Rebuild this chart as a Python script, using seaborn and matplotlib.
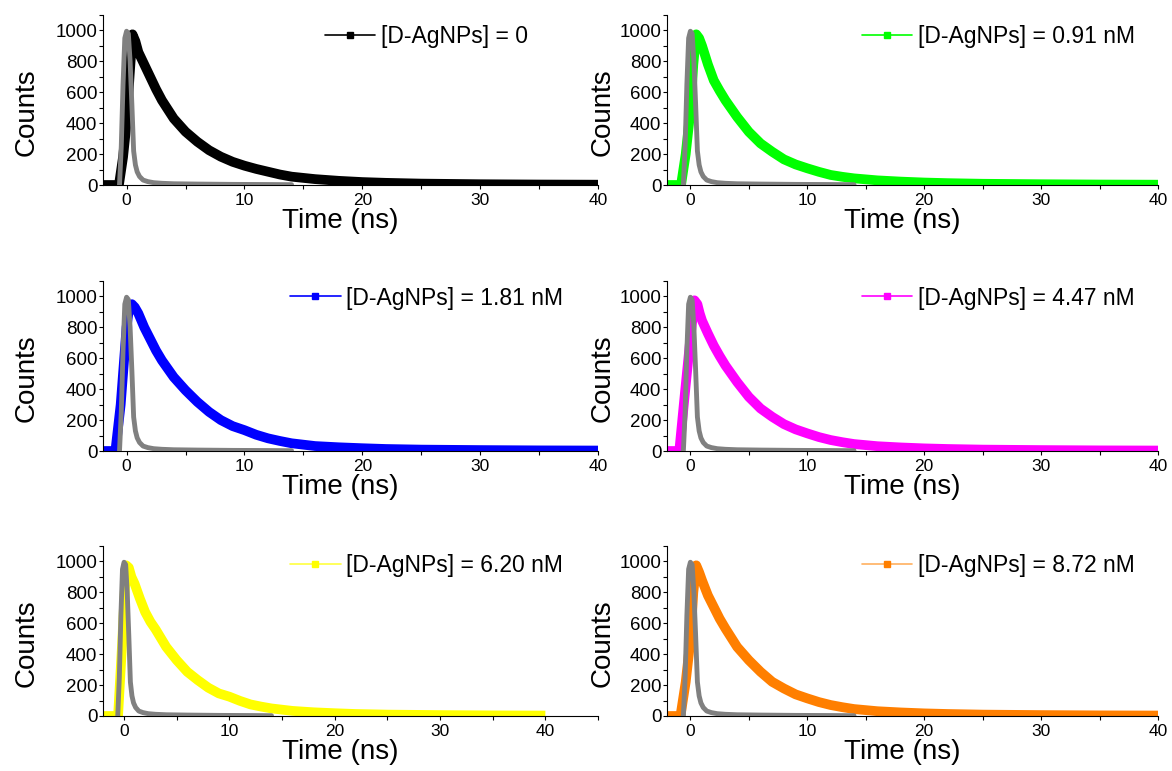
import matplotlib
matplotlib.use("Agg")
import matplotlib.pyplot as plt
from matplotlib.lines import Line2D
from matplotlib.ticker import MultipleLocator
import seaborn as sns
import pandas as pd

sns.set_theme(style="ticks")
plt.rcParams['font.family'] = ['Liberation Sans', 'DejaVu Sans']
plt.rcParams['text.color'] = 'black'
plt.rcParams['axes.labelcolor'] = 'black'
plt.rcParams['xtick.color'] = 'black'
plt.rcParams['ytick.color'] = 'black'

# ---------------- data ----------------
labels = ["[D-AgNPs] = 0", "[D-AgNPs] = 0.91 nM", "[D-AgNPs] = 1.81 nM",
          "[D-AgNPs] = 4.47 nM", "[D-AgNPs] = 6.20 nM", "[D-AgNPs] = 8.72 nM"]
colors = ["#000000", "#00ff00", "#0000ff", "#ff00ff", "#ffff00", "#ff7f00"]
legend_line_colors = ["#000000", "#00ff00", "#0000ff", "#ff00ff", "#ffff40", "#ffb060"]

tail_t = [1.5, 2, 2.5, 3, 4, 5, 6, 7, 8, 9, 10, 11, 12, 13, 14, 16, 18, 20, 22, 25, 30, 35, 40]

t_0 = [-2, -0.65, -0.3, 0, 0.25, 0.5, 0.75, 1] + tail_t
c_0 = [0, 0, 180, 400, 700, 975, 930, 860,
       780, 700, 620, 548, 430, 345, 280, 225, 183, 150, 125, 104, 86, 68, 54, 38, 27, 19, 14, 9, 5, 3, 2]

t_091 = [-2, -0.8, -0.4, 0, 0.25, 0.5, 0.75, 1] + tail_t
c_091 = [0, 0, 200, 480, 780, 975, 950, 900,
         780, 677, 610, 548, 440, 344, 269, 215, 166, 133, 108, 85, 65, 53, 43, 30, 22, 16, 12, 8, 5, 3, 2]

t_181 = [-2, -0.95, -0.5, 0, 0.2, 0.45, 0.7, 1] + tail_t
c_181 = [0, 0, 300, 800, 920, 950, 930, 890,
         800, 725, 650, 586, 478, 393, 318, 253, 200, 161, 135, 105, 82, 65, 50, 32, 24, 18, 13, 9, 6, 4, 3]

t_447 = [-2, -0.95, -0.5, 0, 0.35, 0.6, 0.8, 1] + tail_t
c_447 = [0, 0, 350, 730, 975, 950, 890, 843,
         760, 682, 615, 553, 446, 350, 275, 221, 174, 140, 114, 90, 71, 57, 45, 31, 23, 17, 13, 9, 6, 4, 3]

t_620 = [-2, -0.57, -0.2, 0, 0.2, 0.45, 0.7, 1] + tail_t
c_620 = [0, 0, 450, 720, 975, 960, 900, 856,
         760, 673, 610, 560, 447, 361, 286, 232, 183, 146, 125, 98, 75, 61, 49, 33, 24, 18, 13, 9, 6, 4, 3]

t_872 = [-2, -0.85, -0.4, 0, 0.25, 0.5, 0.75, 1] + tail_t
c_872 = [0, 0, 220, 490, 800, 975, 930, 877,
         780, 705, 630, 566, 447, 361, 286, 221, 178, 140, 114, 90, 71, 57, 45, 31, 23, 17, 13, 9, 6, 4, 3]

# instrument response (gray)
t_irf = [-0.6, -0.45, -0.3, -0.15, 0, 0.15, 0.3, 0.45, 0.6, 0.75, 0.9, 1.1, 1.4, 1.8, 2.3, 3, 4, 6, 9, 12, 14]
c_irf = [0, 250, 650, 950, 995, 980, 800, 520, 220, 130, 85, 55, 32, 22, 15, 11, 8, 6, 4, 3, 2]

times = [t_0, t_091, t_181, t_447, t_620, t_872]
counts = [c_0, c_091, c_181, c_447, c_620, c_872]
x_max = [40, 40, 40, 40, 45, 40]

# ---------------- layout ----------------
W, H = 1172, 771
fig = plt.figure(figsize=(W / 100, H / 100), dpi=100)

col_x = [(103, 598), (667, 1158)]
row_y = [(15, 185), (281, 451), (546, 716)]
leg_x = [0.378, 0.397]
leg_x_first = 0.4485
leg_y = [0.871, 0.90, 0.888]

df_irf = pd.DataFrame({"t": t_irf, "c": c_irf})

for i in range(6):
    r, cidx = divmod(i, 2)
    x0, x1 = col_x[cidx]
    y0, y1 = row_y[r]
    ax = fig.add_axes([x0 / W, (H - y1) / H, (x1 - x0) / W, (y1 - y0) / H])

    df = pd.DataFrame({"t": times[i], "c": counts[i]})
    sns.lineplot(data=df, x="t", y="c", ax=ax, color=colors[i], linewidth=7,
                 solid_joinstyle="round", solid_capstyle="butt", legend=False, zorder=2)
    sns.lineplot(data=df_irf, x="t", y="c", ax=ax, color="#808080", linewidth=3.5,
                 solid_joinstyle="round", legend=False, zorder=3)

    ax.set_xlim(-2, x_max[i])
    ax.set_ylim(0, 1100)
    ax.xaxis.set_major_locator(MultipleLocator(10))
    ax.xaxis.set_minor_locator(MultipleLocator(5))
    ax.yaxis.set_major_locator(MultipleLocator(200))
    ax.yaxis.set_minor_locator(MultipleLocator(100))
    ax.tick_params(axis="both", which="both", direction="out", length=3, width=0.8, colors="black")
    ax.tick_params(axis="x", which="both", labelsize=12.5, pad=3)
    ax.tick_params(axis="y", which="both", labelsize=13.5, pad=1)
    for s in ["top", "right"]:
        ax.spines[s].set_visible(False)
    for s in ["left", "bottom"]:
        ax.spines[s].set_color("black")
        ax.spines[s].set_linewidth(0.8)

    ax.set_xlabel("Time (ns)", fontsize=20, color="black")
    ax.set_ylabel("Counts", fontsize=20, color="black")
    if cidx == 0:
        ax.xaxis.set_label_coords(0.479, -0.135)
        ax.yaxis.set_label_coords(-0.129, 0.43)
    else:
        ax.xaxis.set_label_coords(0.48, -0.135)
        ax.yaxis.set_label_coords(-0.104, 0.43)

    lx = leg_x_first if i == 0 else leg_x[cidx]
    handle = Line2D([], [], color=legend_line_colors[i], lw=1.2, marker="s", ms=4,
                    markerfacecolor=colors[i], markeredgecolor=colors[i])
    leg = ax.legend(handles=[handle], labels=[labels[i]], loc="center left",
                    bbox_to_anchor=(lx, leg_y[r]), frameon=False, fontsize=16.5,
                    handlelength=2.2, handletextpad=0.25, borderpad=0, borderaxespad=0)
    for txt in leg.get_texts():
        txt.set_color("black")

fig.savefig("out.png", dpi=100)
